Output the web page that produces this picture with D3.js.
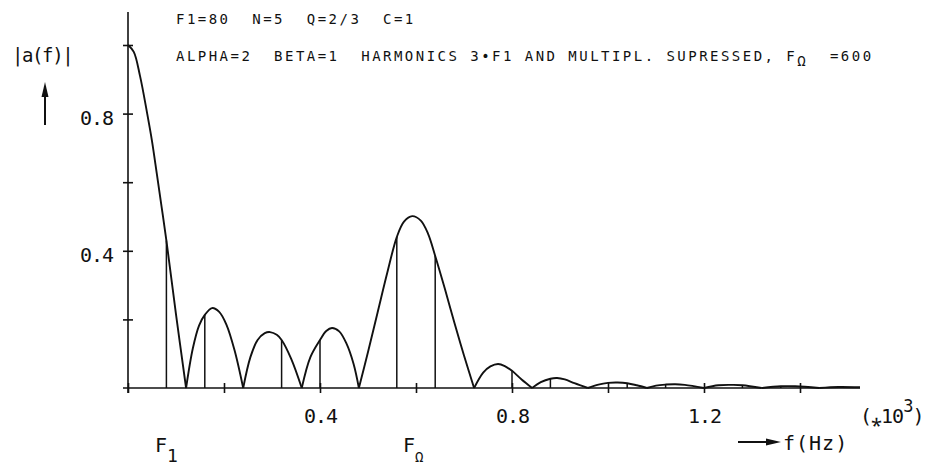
<!DOCTYPE html>
<title>|a(f)| spectrum</title>
<body>
<script src="https://cdn.jsdelivr.net/npm/d3@7"></script>
<style>
  html, body {
    width: 100%;
    height: 100%;
    margin: 0;
    overflow: hidden;
    background: #fff;
  }
  text {
    font-family: "DejaVu Sans Mono", monospace;
    fill: #111;
  }
</style>
<script>
  // spectrum |a(f)|, f in kHz; zeros at multiples of 0.12 split the lobes
  var curve = [
    [0, 1], [0.012, 0.98], [0.025, 0.91], [0.04, 0.8], [0.05, 0.72], [0.06, 0.625],
    [0.07, 0.528], [0.08, 0.43], [0.1, 0.215], [0.121, 0],
    [0.135, 0.115], [0.148, 0.182], [0.16, 0.213], [0.175, 0.233], [0.19, 0.222],
    [0.205, 0.185], [0.222, 0.11], [0.24, 0],
    [0.255, 0.09], [0.27, 0.14], [0.285, 0.16], [0.296, 0.163], [0.31, 0.155],
    [0.32, 0.14], [0.34, 0.085], [0.362, 0],
    [0.38, 0.09], [0.4, 0.14], [0.413, 0.166], [0.425, 0.175], [0.44, 0.165],
    [0.455, 0.13], [0.47, 0.07], [0.481, 0],
    [0.5, 0.105], [0.52, 0.22], [0.54, 0.335], [0.56, 0.44], [0.575, 0.485],
    [0.592, 0.501], [0.61, 0.488], [0.625, 0.45], [0.64, 0.385], [0.66, 0.29],
    [0.68, 0.19], [0.7, 0.095], [0.721, 0],
    [0.74, 0.045], [0.755, 0.063], [0.771, 0.07], [0.785, 0.064], [0.8, 0.05],
    [0.82, 0.025], [0.842, 0],
    [0.86, 0.017], [0.88, 0.027], [0.894, 0.029], [0.91, 0.025], [0.93, 0.014], [0.958, 0],
    [0.98, 0.01], [1.0, 0.015], [1.02, 0.016], [1.04, 0.014], [1.06, 0.008], [1.081, 0],
    [1.1, 0.007], [1.12, 0.01], [1.14, 0.011], [1.16, 0.009], [1.2, 0],
    [1.23, 0.008], [1.26, 0.009], [1.28, 0.008], [1.32, 0],
    [1.36, 0.005], [1.39, 0.005], [1.44, 0],
    [1.48, 0.003], [1.525, 0.002]
  ];

  // harmonic lines k*F1 (multiples of 3*F1 suppressed)
  var harmonics = [
    [0.08, 0.43], [0.16, 0.213], [0.32, 0.14], [0.4, 0.14], [0.56, 0.44],
    [0.64, 0.385], [0.8, 0.05], [0.88, 0.027], [1.04, 0.014], [1.12, 0.01],
    [1.28, 0.008], [1.36, 0.005]
  ];

  var xTicks = [0, 0.2, 0.4, 0.6, 0.8, 1.0, 1.2, 1.4],
    xLabels = [0.4, 0.8, 1.2],
    yTicks = [0.2, 0.4, 0.6, 0.8, 1.0],
    yLabels = [0.4, 0.8];

  var headerLine1 = "F1=80  N=5  Q=2/3  C=1",
    headerLine2a = "ALPHA=2  BETA=1  HARMONICS 3\u2022F1 AND MULTIPL. SUPRESSED, F",
    headerLine2b = "  =600";

  var body = d3.select("body"),
    width = 929,
    height = 468,
    ink = "#111";

  var svg = body.append("svg")
    .attr("width", width)
    .attr("height", height);

  var x = d3.scaleLinear().domain([0, 1]).range([128, 608]),
    y = d3.scaleLinear().domain([0, 1]).range([388, 45]);

  /* axes: ticks cross the axis line, 5px each side */
  var xAxis = svg.append("g")
    .attr("transform", "translate(0," + y(0) + ")")
    .call(d3.axisBottom(x).tickValues(xTicks).tickSize(5)
      .tickFormat(function(d) { return xLabels.indexOf(d) >= 0 ? d3.format(".1f")(d) : ""; }));
  xAxis.select(".domain").remove();
  xAxis.selectAll(".tick line").attr("y1", -5).attr("y2", 5)
    .attr("stroke", ink).attr("stroke-width", 1.6);
  xAxis.selectAll(".tick text")
    .attr("y", 35).attr("dy", 0)
    .style("font-size", "20px").style("letter-spacing", "-1px")
    .attr("fill", ink);

  var yAxis = svg.append("g")
    .attr("transform", "translate(" + x(0) + ",0)")
    .call(d3.axisLeft(y).tickValues(yTicks).tickSize(5)
      .tickFormat(function(d) { return yLabels.indexOf(d) >= 0 ? d3.format(".1f")(d) : ""; }));
  yAxis.select(".domain").remove();
  yAxis.selectAll(".tick line").attr("x1", 5).attr("x2", -5)
    .attr("stroke", ink).attr("stroke-width", 1.6);
  yAxis.selectAll(".tick text")
    .attr("x", -15).attr("dy", 11)
    .style("font-size", "20px").style("letter-spacing", "-1px")
    .attr("fill", ink);

  svg.append("line")
    .attr("x1", x(0) - 5).attr("x2", x(1.525))
    .attr("y1", y(0)).attr("y2", y(0))
    .attr("stroke", ink).attr("stroke-width", 1.6);
  svg.append("line")
    .attr("x1", x(0)).attr("x2", x(0))
    .attr("y1", y(0) + 5).attr("y2", 12)
    .attr("stroke", ink).attr("stroke-width", 1.6);

  /* harmonic lines */
  svg.selectAll("line.harm")
    .data(harmonics)
    .enter().append("line")
    .attr("class", "harm")
    .attr("x1", function(d) { return x(d[0]); })
    .attr("x2", function(d) { return x(d[0]); })
    .attr("y1", y(0))
    .attr("y2", function(d) { return y(d[1]); })
    .attr("stroke", ink)
    .attr("stroke-width", 1.5);

  /* curve, one path per lobe so the zeros stay sharp */
  var lobes = [], cur = [];
  curve.forEach(function(p, i) {
    cur.push(p);
    if (p[1] === 0 && i > 0) {
      lobes.push(cur);
      cur = [p];
    }
  });
  if (cur.length > 1) lobes.push(cur);

  var line = d3.line()
    .x(function(d) { return x(d[0]); })
    .y(function(d) { return y(d[1]); })
    .curve(d3.curveCatmullRom.alpha(0.5));

  svg.selectAll("path.lobe")
    .data(lobes)
    .enter().append("path")
    .attr("class", "lobe")
    .attr("d", line)
    .attr("fill", "none")
    .attr("stroke", ink)
    .attr("stroke-width", 1.9)
    .attr("stroke-linejoin", "round");

  /* header */
  svg.append("text")
    .attr("x", 176).attr("y", 24)
    .style("font-size", "14px").style("letter-spacing", "2.47px")
    .style("white-space", "pre")
    .text(headerLine1);
  var h2 = svg.append("text")
    .attr("x", 176).attr("y", 61)
    .style("font-size", "14px").style("letter-spacing", "2.47px")
    .style("white-space", "pre");
  h2.append("tspan").text(headerLine2a);
  h2.append("tspan").attr("dy", 5).text("\u03A9");
  h2.append("tspan").attr("dy", -5).text(headerLine2b);

  /* y label with arrow */
  svg.append("text")
    .attr("x", 12).attr("y", 62)
    .style("font-size", "19px").style("letter-spacing", "-1.4px")
    .text("|a(f)|");
  svg.append("line")
    .attr("x1", 45).attr("x2", 45).attr("y1", 125).attr("y2", 92)
    .attr("stroke", ink).attr("stroke-width", 2);
  svg.append("path")
    .attr("d", "M45,82 L41.5,97 L48.5,97 Z")
    .attr("fill", ink);

  /* x label with arrow */
  svg.append("text")
    .attr("x", 860).attr("y", 423)
    .style("font-size", "20px").style("letter-spacing", "-1px")
    .call(function(t) {
      t.append("tspan").text("(\u204E10");
      t.append("tspan").attr("dy", -11).style("font-size", "17px").text("3");
      t.append("tspan").attr("dy", 11).text(")");
    });
  svg.append("line")
    .attr("x1", 738).attr("x2", 772).attr("y1", 442).attr("y2", 442)
    .attr("stroke", ink).attr("stroke-width", 2);
  svg.append("path")
    .attr("d", "M781,442 L766,438.5 L766,445.5 Z")
    .attr("fill", ink);
  svg.append("text")
    .attr("x", 783).attr("y", 450)
    .style("font-size", "20px").style("letter-spacing", "1px")
    .text("f(Hz)");

  /* F1 and F-omega markers below the axis */
  var marks = [["1", 155, "18px"], ["\u03A9", 403, "14px"]];
  marks.forEach(function(m) {
    var t = svg.append("text")
      .attr("x", m[1]).attr("y", 452)
      .style("font-size", "20px");
    t.append("tspan").text("F");
    t.append("tspan").attr("dy", 10).style("font-size", m[2]).text(m[0]);
  });
</script>
</body>
